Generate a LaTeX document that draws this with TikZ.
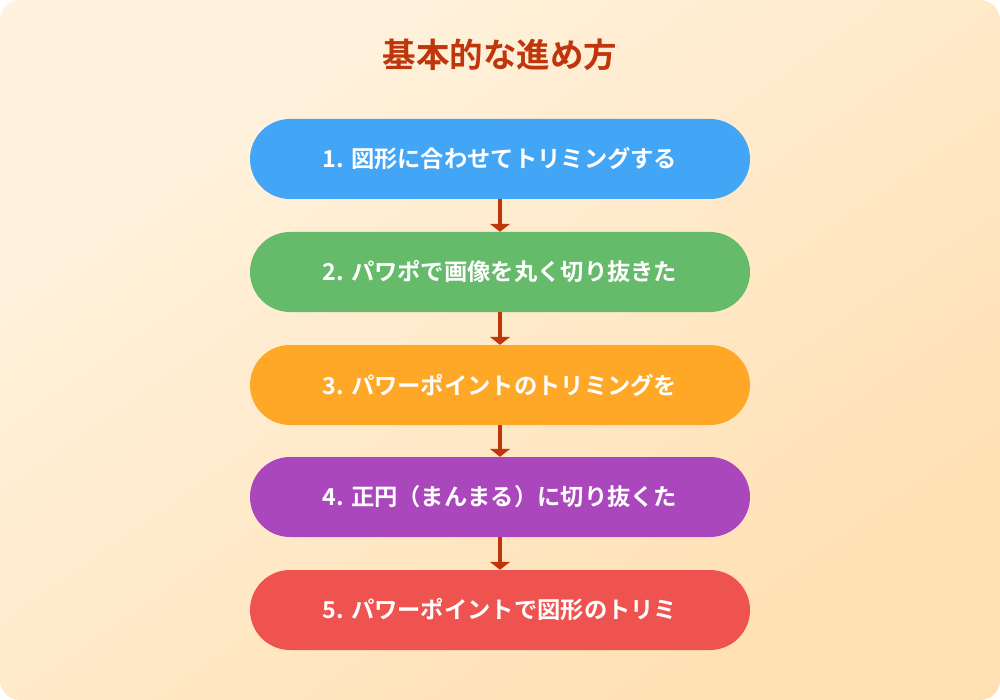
\documentclass[tikz,border=0pt]{standalone}
\usepackage{fontspec}
\newfontfamily\cjk{Noto Sans CJK JP}[BoldFont={* Bold}]
\usetikzlibrary{arrows.meta}
\definecolor{bgA}{HTML}{FFF3E0}
\definecolor{bgB}{HTML}{FFE0B2}
\definecolor{titlec}{HTML}{BF360C}
\definecolor{arrowc}{HTML}{BF360C}
\definecolor{c1}{HTML}{42A5F5}
\definecolor{c2}{HTML}{66BB6A}
\definecolor{c3}{HTML}{FFA726}
\definecolor{c4}{HTML}{AB47BC}
\definecolor{c5}{HTML}{EF5350}
\tikzset{
  pill/.style={fill=#1, draw=none, rounded corners=40pt, minimum width=500pt, minimum height=80pt,
    text=white, font=\cjk\bfseries\fontsize{23.3}{27}\selectfont, inner sep=0pt},
  flow/.style={draw=arrowc, line width=4pt, -{Triangle[width=20pt,length=8pt]}},
}
\begin{document}
\begin{tikzpicture}[x=1pt,y=-1pt]
\useasboundingbox (0,0) rectangle (1000,700);
\fill[white] (0,0) rectangle (1000,700);
\shade[rounded corners=20pt, top color=bgA, bottom color=bgB, shading angle=35] (0,0) rectangle (1000,700);
\node[text=titlec, font=\cjk\bfseries\fontsize{33.5}{38}\selectfont] (title) at (500,55) {基本的な進め方};
\node[pill=c1] (s1) at (500,159) {1. 図形に合わせてトリミングする};
\node[pill=c2] (s2) at (500,272) {2. パワポで画像を丸く切り抜きた};
\node[pill=c3] (s3) at (500,385) {3. パワーポイントのトリミングを};
\node[pill=c4] (s4) at (500,497) {4. 正円（まんまる）に切り抜くた};
\node[pill=c5] (s5) at (500,610) {5. パワーポイントで図形のトリミ};
\draw[flow] (s1.south) -- (s2.north);
\draw[flow] (s2.south) -- (s3.north);
\draw[flow] (s3.south) -- (s4.north);
\draw[flow] (s4.south) -- (s5.north);
\end{tikzpicture}
\end{document}
